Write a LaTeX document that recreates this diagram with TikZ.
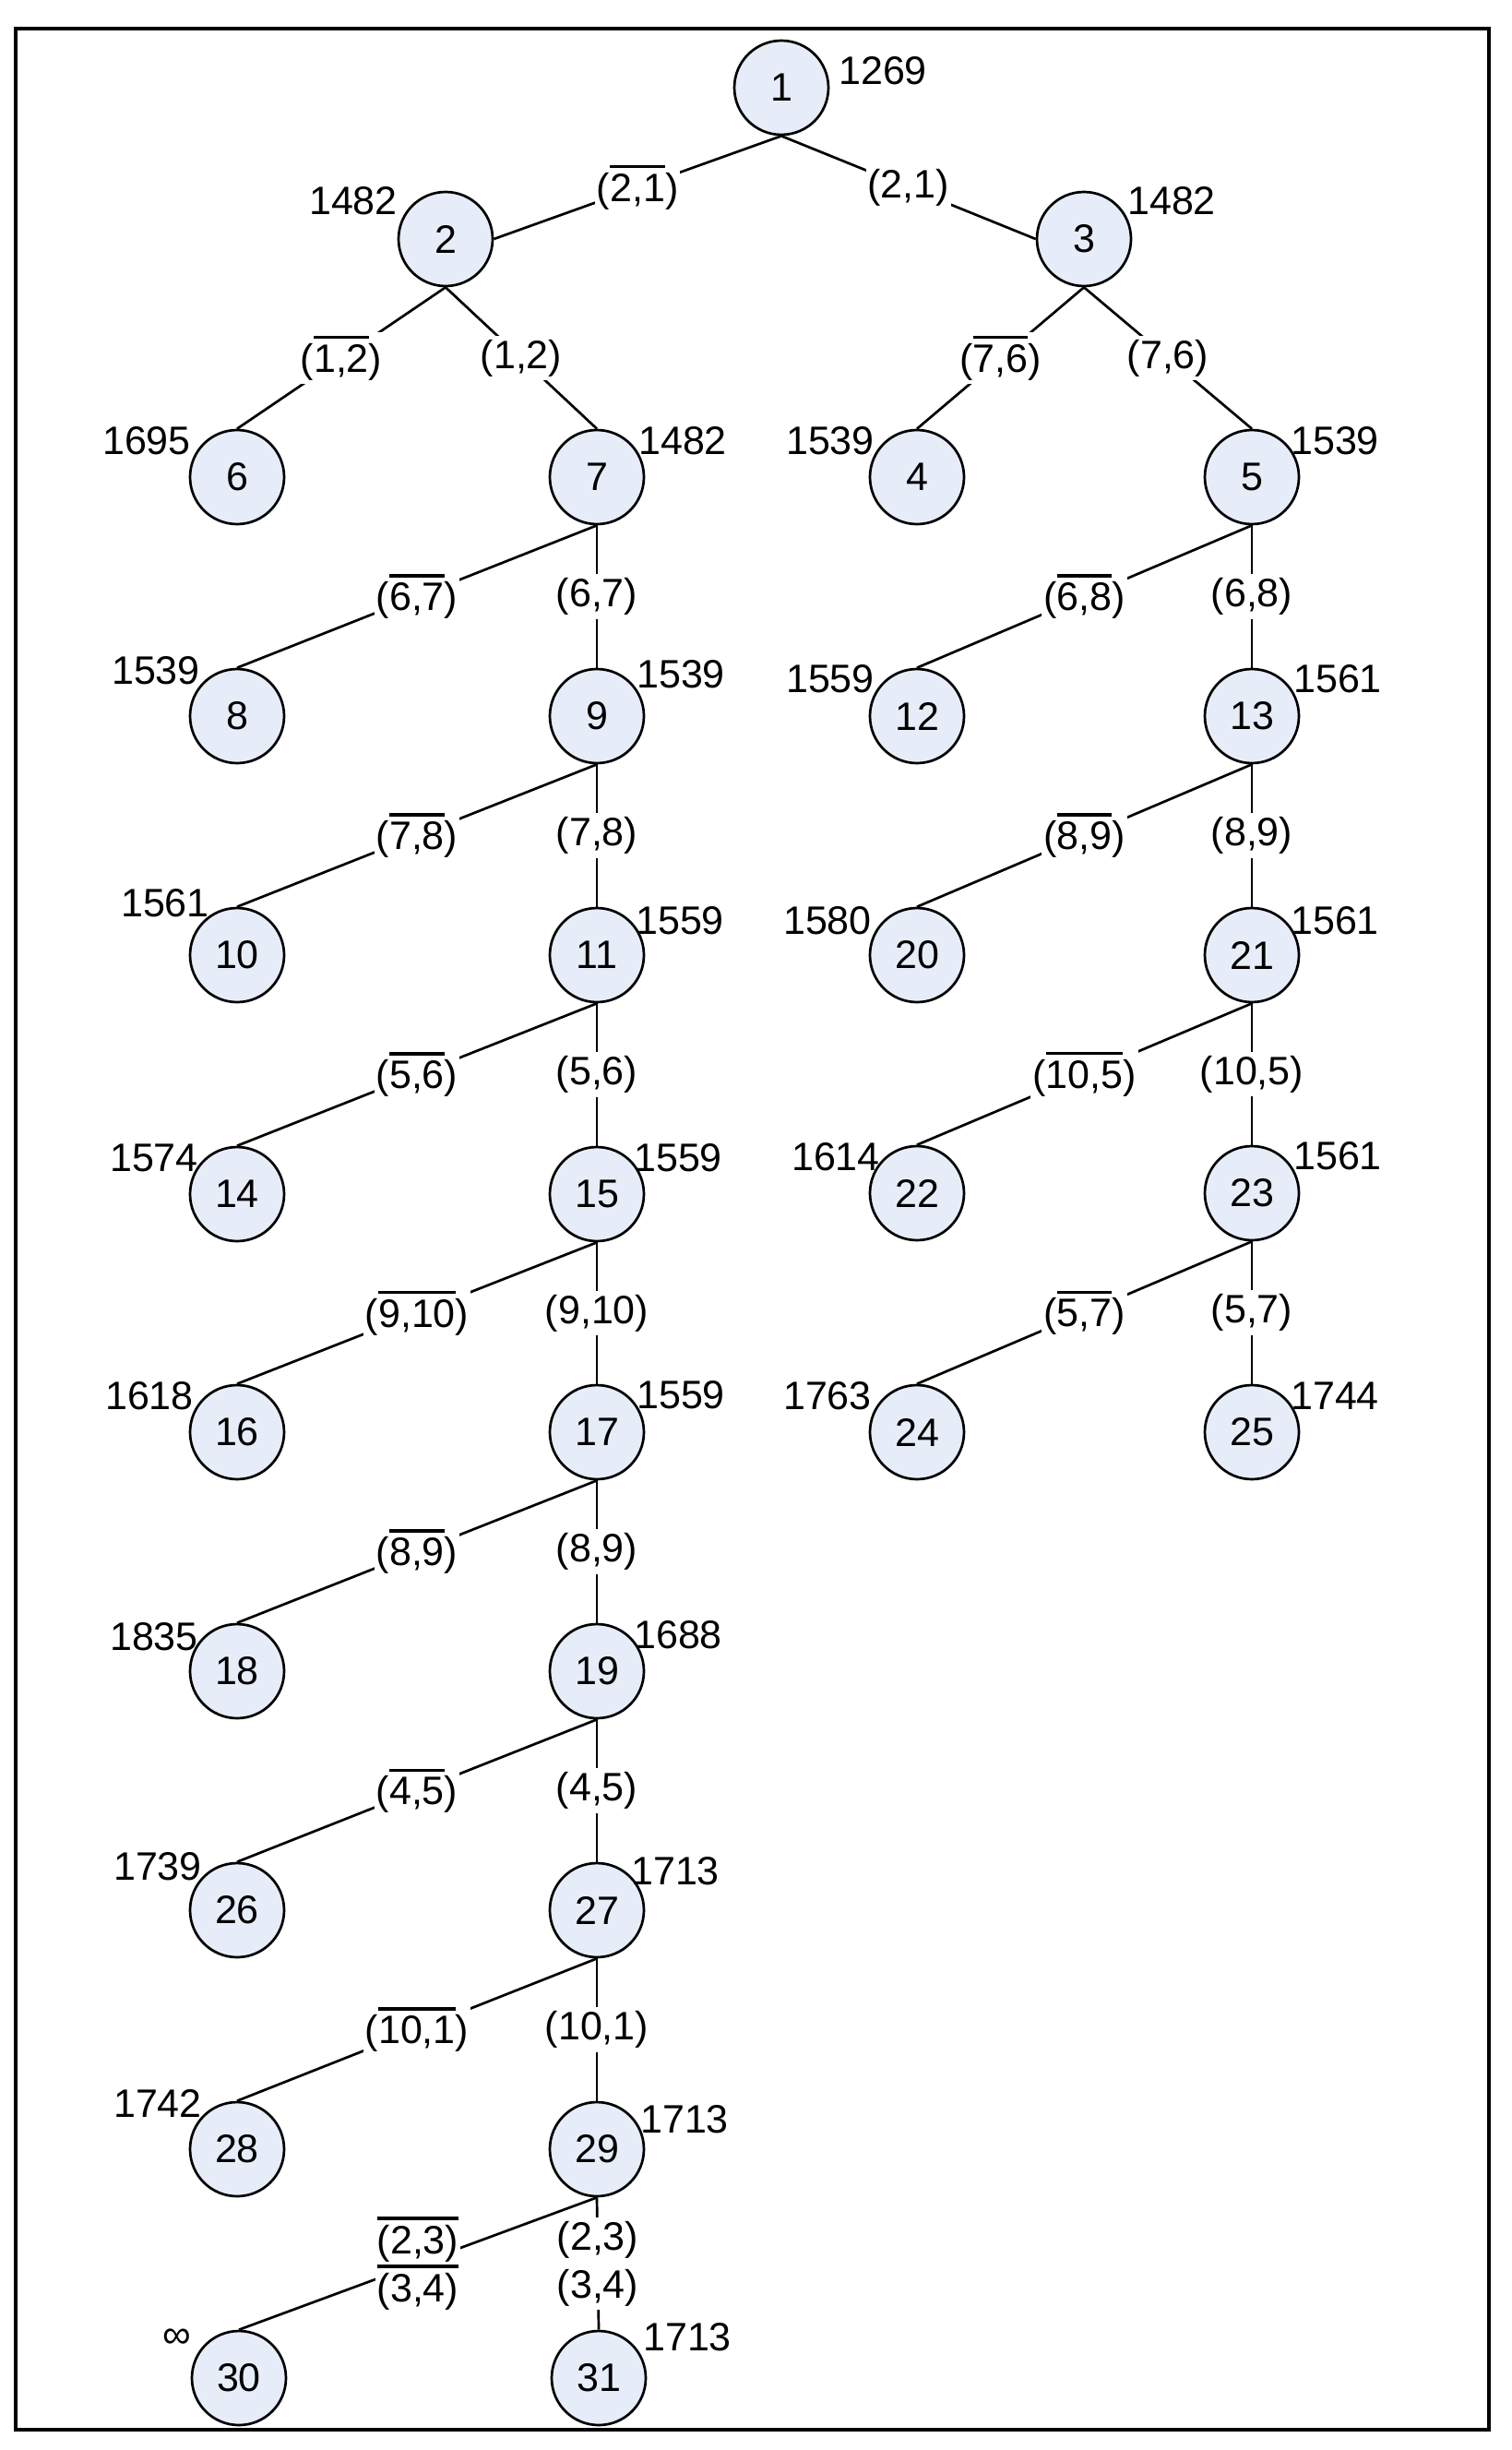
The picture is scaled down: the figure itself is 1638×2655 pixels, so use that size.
\documentclass[tikz,border=0pt]{standalone}
\usepackage{fontspec}
\setmainfont{Liberation Sans}
\newcommand{\fsz}{\fontsize{43}{52}\selectfont}
\newcommand{\ovl}[1]{\vbox{\hrule height 3.3pt\kern 6pt\hbox{#1}}}
\definecolor{nfill}{RGB}{230,237,248}
\tikzset{
  vtx/.style={circle, draw=black, line width=2.7pt, fill=nfill, minimum size=102pt, inner sep=0pt, font=\fsz},
  wr/.style={anchor=south west, inner sep=0pt, font=\fsz},
  wl/.style={anchor=south east, inner sep=0pt, font=\fsz},
  elab/.style={fill=white, inner xsep=2pt, inner ysep=4pt, font=\fsz},
  edge/.style={line width=2.7pt},
}
\begin{document}
\begin{tikzpicture}[x=1pt,y=-1pt]
\useasboundingbox (0,0) rectangle (1638,2655);
\draw[line width=3.3pt] (17,31) rectangle (1614,2633);
% nodes
\node[vtx] (n1) at (847,95) {1};
\node[vtx] (n2) at (483,259) {2};
\node[vtx] (n3) at (1175,259) {3};
\node[vtx] (n6) at (257,517) {6};
\node[vtx] (n7) at (647,517) {7};
\node[vtx] (n4) at (994,517) {4};
\node[vtx] (n5) at (1357,517) {5};
\node[vtx] (n8) at (257,776) {8};
\node[vtx] (n9) at (647,776) {9};
\node[vtx] (n12) at (994,776) {12};
\node[vtx] (n13) at (1357,776) {13};
\node[vtx] (n10) at (257,1035) {10};
\node[vtx] (n11) at (647,1035) {11};
\node[vtx] (n20) at (994,1035) {20};
\node[vtx] (n21) at (1357,1035) {21};
\node[vtx] (n14) at (257,1294) {14};
\node[vtx] (n15) at (647,1294) {15};
\node[vtx] (n22) at (994,1293) {22};
\node[vtx] (n23) at (1357,1293) {23};
\node[vtx] (n16) at (257,1552) {16};
\node[vtx] (n17) at (647,1552) {17};
\node[vtx] (n24) at (994,1552) {24};
\node[vtx] (n25) at (1357,1552) {25};
\node[vtx] (n18) at (257,1811) {18};
\node[vtx] (n19) at (647,1811) {19};
\node[vtx] (n26) at (257,2070) {26};
\node[vtx] (n27) at (647,2070) {27};
\node[vtx] (n28) at (257,2329) {28};
\node[vtx] (n29) at (647,2329) {29};
\node[vtx] (n30) at (259,2577) {30};
\node[vtx] (n31) at (649,2577) {31};
% weights
\node[wr] (w1) at (909,92) {1269};
\node[wl] (w2) at (431,233) {1482};
\node[wr] (w3) at (1222,233) {1482};
\node[wl] (w6) at (207,493) {1695};
\node[wr] (w7) at (692,493) {1482};
\node[wl] (w4) at (948,493) {1539};
\node[wr] (w5) at (1399,493) {1539};
\node[wl] (w8) at (217,742) {1539};
\node[wr] (w9) at (690,746) {1539};
\node[wl] (w12) at (948,751) {1559};
\node[wr] (w13) at (1402,751) {1561};
\node[wl] (w10) at (227,994) {1561};
\node[wr] (w11) at (689,1013) {1559};
\node[wl] (w20) at (945,1013) {1580};
\node[wr] (w21) at (1399,1013) {1561};
\node[wl] (w14) at (215,1270) {1574};
\node[wr] (w15) at (687,1270) {1559};
\node[wl] (w22) at (954,1269) {1614};
\node[wr] (w23) at (1402,1268) {1561};
\node[wl] (w16) at (210,1528) {1618};
\node[wr] (w17) at (690,1527) {1559};
\node[wl] (w24) at (945,1528) {1763};
\node[wr] (w25) at (1399,1528) {1744};
\node[wl] (w18) at (215,1789) {1835};
\node[wr] (w19) at (687,1787) {1688};
\node[wl] (w26) at (219,2038) {1739};
\node[wr] (w27) at (684,2043) {1713};
\node[wl] (w28) at (219,2295) {1742};
\node[wr] (w29) at (694,2312) {1713};
\node[anchor=center, inner sep=0pt, font=\fsz] (w30) at (192,2534) {∞};
\node[wr] (w31) at (697,2548) {1713};
% edges
\draw[edge] (n1.south) -- node[elab]{(\ovl{2,1})} (n2.east);
\draw[edge] (n1.south) -- node[elab]{(2,1)} (n3.west);
\draw[edge] (n2.south) -- node[elab]{(\ovl{1,2})} (n6.north);
\draw[edge] (n2.south) -- node[elab]{(1,2)} (n7.north);
\draw[edge] (n3.south) -- node[elab]{(\ovl{7,6})} (n4.north);
\draw[edge] (n3.south) -- node[elab]{(7,6)} (n5.north);
\draw[edge] (n7.south) -- node[elab]{(\ovl{6,7})} (n8.north);
\draw[edge] (n7.south) -- node[elab]{(6,7)} (n9.north);
\draw[edge] (n5.south) -- node[elab]{(\ovl{6,8})} (n12.north);
\draw[edge] (n5.south) -- node[elab]{(6,8)} (n13.north);
\draw[edge] (n9.south) -- node[elab]{(\ovl{7,8})} (n10.north);
\draw[edge] (n9.south) -- node[elab]{(7,8)} (n11.north);
\draw[edge] (n13.south) -- node[elab]{(\ovl{8,9})} (n20.north);
\draw[edge] (n13.south) -- node[elab]{(8,9)} (n21.north);
\draw[edge] (n11.south) -- node[elab]{(\ovl{5,6})} (n14.north);
\draw[edge] (n11.south) -- node[elab]{(5,6)} (n15.north);
\draw[edge] (n21.south) -- node[elab]{(\ovl{10,5})} (n22.north);
\draw[edge] (n21.south) -- node[elab]{(10,5)} (n23.north);
\draw[edge] (n15.south) -- node[elab]{(\ovl{9,10})} (n16.north);
\draw[edge] (n15.south) -- node[elab]{(9,10)} (n17.north);
\draw[edge] (n23.south) -- node[elab]{(\ovl{5,7})} (n24.north);
\draw[edge] (n23.south) -- node[elab]{(5,7)} (n25.north);
\draw[edge] (n17.south) -- node[elab]{(\ovl{8,9})} (n18.north);
\draw[edge] (n17.south) -- node[elab]{(8,9)} (n19.north);
\draw[edge] (n19.south) -- node[elab]{(\ovl{4,5})} (n26.north);
\draw[edge] (n19.south) -- node[elab]{(4,5)} (n27.north);
\draw[edge] (n27.south) -- node[elab]{(\ovl{10,1})} (n28.north);
\draw[edge] (n27.south) -- node[elab]{(10,1)} (n29.north);
\draw[edge] (n29.south) -- node[elab, align=center]{\ovl{(2,3)}\\\ovl{(3,4)}} (n30.north);
\draw[edge] (n29.south) -- node[elab, align=center]{(2,3)\\(3,4)} (n31.north);
\end{tikzpicture}
\end{document}
